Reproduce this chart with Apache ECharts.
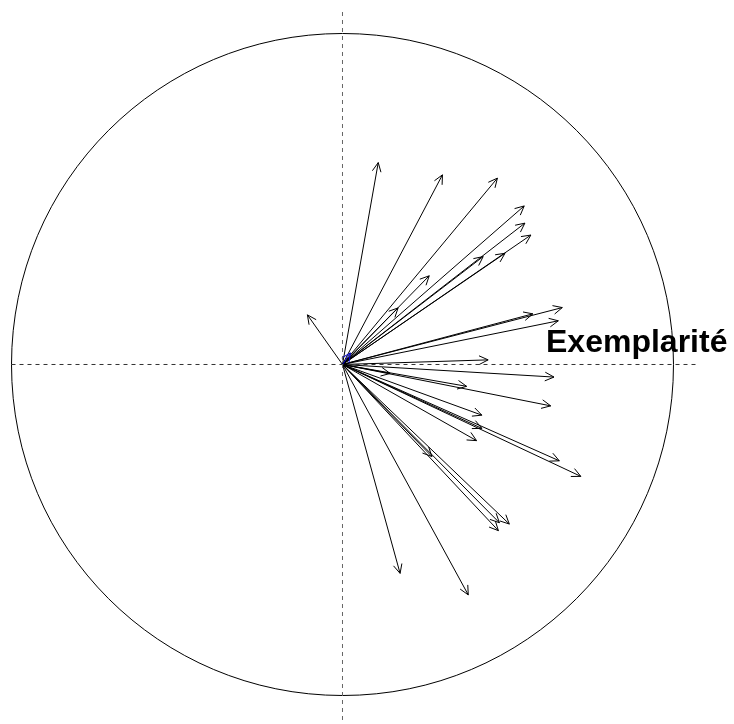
<!DOCTYPE html>
<html>
<head>
<meta charset="utf-8">
<script src="https://cdn.jsdelivr.net/npm/echarts@6/dist/echarts.min.js"></script>
<style>
  html, body { margin: 0; padding: 0; background: #fff; }
  #chart { width: 734px; height: 724px; }
</style>
</head>
<body>
<div id="chart"></div>
<script>
// coordonnées des flèches (cercle des corrélations, rayon 1)
var arrowX = [0.108, 0.302, 0.468, 0.549, 0.551, 0.569, 0.425, 0.491, 0.262, 0.168,
              -0.106, 0.664, 0.575, 0.652, 0.440, 0.639, 0.375, 0.144, 0.629, 0.421,
              0.421, 0.405, 0.655, 0.720, 0.270, 0.504, 0.474, 0.471, 0.174, 0.380];
var arrowY = [0.610, 0.573, 0.563, 0.479, 0.427, 0.391, 0.326, 0.336, 0.268, 0.171,
              0.150, 0.172, 0.153, 0.132, 0.014, -0.038, -0.066, -0.027, -0.125, -0.153,
              -0.193, -0.230, -0.291, -0.338, -0.278, -0.482, -0.478, -0.502, -0.631, -0.696];
var blueX = [0.024];
var blueY = [0.035];
var labelText = 'Exemplarité';

var xMin = -1, xMax = 1.071;
var yMin = -1.074, yMax = 1.077;

var chart = echarts.init(document.getElementById('chart'));

function arrowItem(color) {
    return function (params, api) {
        var o = api.coord([0, 0]);
        var p = api.coord([api.value(0), api.value(1)]);
        var ang = Math.atan2(p[1] - o[1], p[0] - o[0]);
        var h = 10, a = Math.PI / 7;
        return {
            type: 'group',
            children: [
                {
                    type: 'line',
                    shape: { x1: o[0], y1: o[1], x2: p[0], y2: p[1] },
                    style: { stroke: color, lineWidth: 1 }
                },
                {
                    type: 'polyline',
                    shape: {
                        points: [
                            [p[0] - h * Math.cos(ang - a), p[1] - h * Math.sin(ang - a)],
                            p,
                            [p[0] - h * Math.cos(ang + a), p[1] - h * Math.sin(ang + a)]
                        ]
                    },
                    style: { stroke: color, fill: null, lineWidth: 1 }
                }
            ]
        };
    };
}

var arrows = arrowX.map(function (x, i) { return [x, arrowY[i]]; });
var blue = blueX.map(function (x, i) { return [x, blueY[i]]; });

var option = {
    animation: false,
    backgroundColor: '#fff',
    grid: { left: 11.5, right: 37, top: 8, bottom: 4 },
    xAxis: { type: 'value', min: xMin, max: xMax, show: false },
    yAxis: { type: 'value', min: yMin, max: yMax, show: false },
    graphic: [
        {
            type: 'text',
            left: 546,
            top: 327,
            style: {
                text: labelText,
                font: 'bold 32px "Liberation Sans", Arial, sans-serif',
                fill: '#000'
            },
            z: 100
        }
    ],
    series: [
        {
            // axe horizontal
            type: 'line',
            data: [[xMin, 0], [xMax, 0]],
            symbol: 'none',
            silent: true,
            lineStyle: { color: '#333', width: 1, type: [4, 4] }
        },
        {
            // axe vertical
            type: 'line',
            data: [[0, yMin], [0, yMax]],
            symbol: 'none',
            silent: true,
            lineStyle: { color: '#666', width: 1, type: [4, 4] }
        },
        {
            // cercle unité
            type: 'custom',
            data: [[0, 0]],
            silent: true,
            renderItem: function (params, api) {
                var c = api.coord([0, 0]);
                var r = api.size([1, 1]);
                return {
                    type: 'ellipse',
                    shape: { cx: c[0], cy: c[1], rx: r[0], ry: r[1] },
                    style: { stroke: '#000', fill: null, lineWidth: 1 }
                };
            }
        },
        {
            type: 'custom',
            data: arrows,
            silent: true,
            renderItem: arrowItem('#000')
        },
        {
            type: 'custom',
            data: blue,
            silent: true,
            renderItem: arrowItem('#0000cc')
        }
    ]
};
chart.setOption(option);
</script>
</body>
</html>
